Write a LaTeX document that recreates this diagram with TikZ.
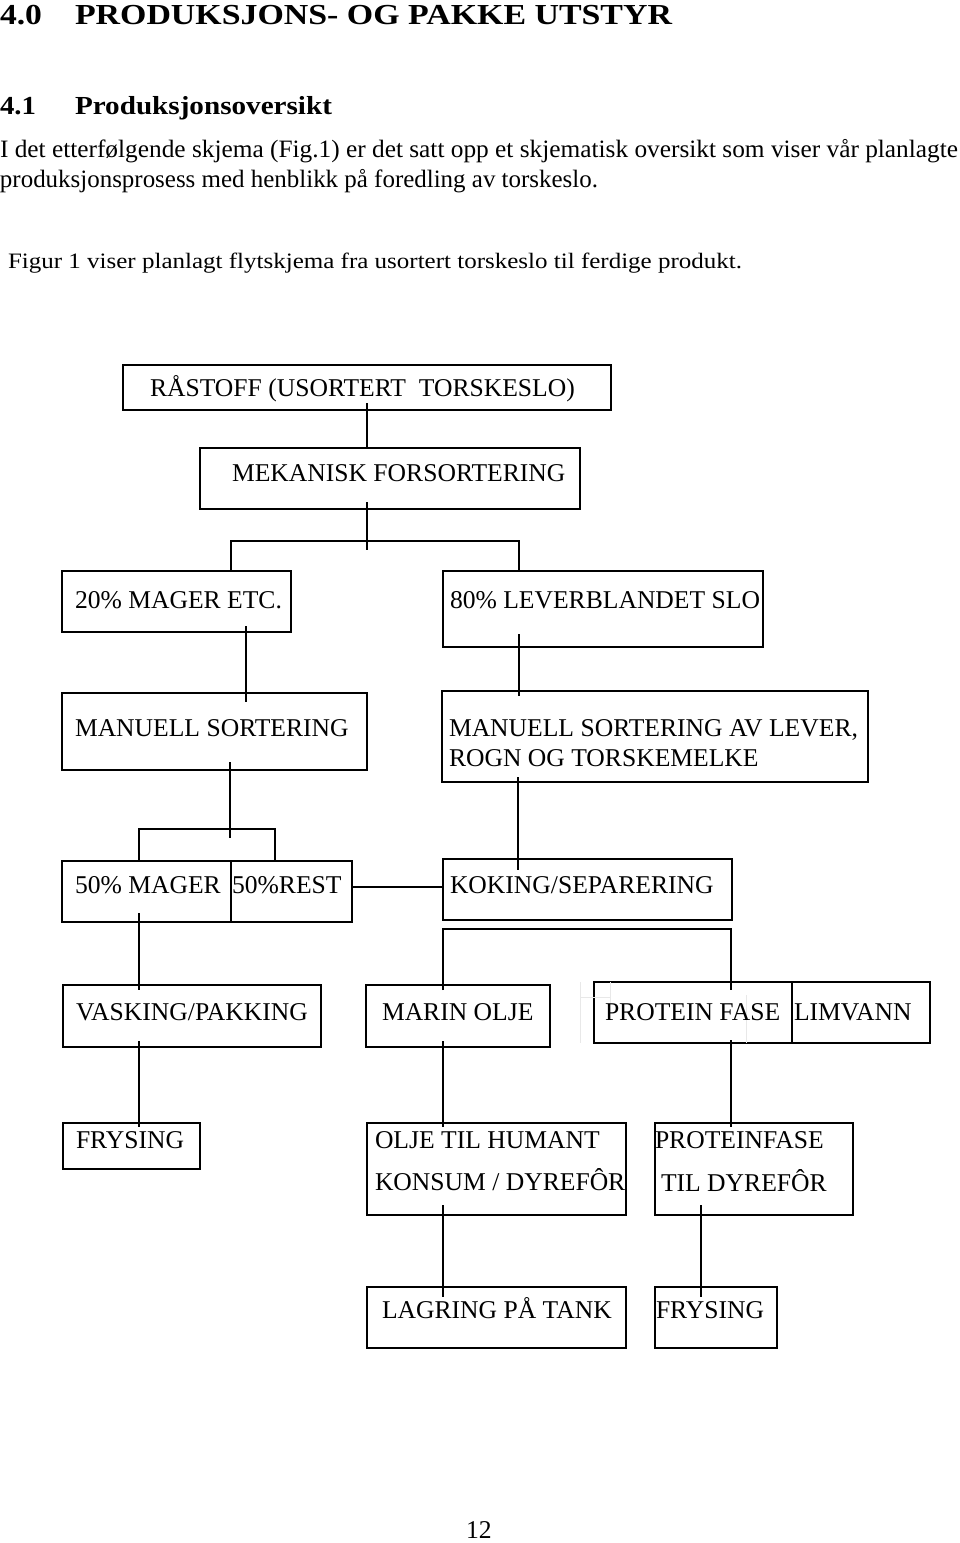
\documentclass[tikz,border=0pt]{standalone}
\usepackage{fontspec}
\setmainfont{Liberation Serif}
\usepackage{graphicx}
\usetikzlibrary{calc}
\begin{document}
\begin{tikzpicture}[x=1pt,y=-1pt,
  box/.style={draw, line width=1.6pt, inner sep=0pt, outer sep=0pt, anchor=north west},
  conn/.style={line width=1.2pt},
  faint/.style={draw=black!9, line width=1pt},
  txt/.style={anchor=base west, inner sep=0pt, outer sep=0pt, font=\fontsize{25.6}{30}\selectfont},
  htxt/.style={anchor=base west, inner sep=0pt, outer sep=0pt}]
\useasboundingbox (0,0) rectangle (960,1543);

% ---------- header text ----------
\node[htxt] (h40n) at (0,24) {\resizebox{42pt}{\height}{\fontsize{29}{34}\selectfont\bfseries 4.0}};
\node[htxt] (h40t) at (75,24) {\resizebox{597pt}{\height}{\fontsize{29}{34}\selectfont\bfseries PRODUKSJONS- OG PAKKE UTSTYR}};
\node[htxt] (h41n) at (0,114) {\resizebox{36pt}{\height}{\fontsize{26}{30}\selectfont\bfseries 4.1}};
\node[htxt] (h41t) at (75,114) {\resizebox{257pt}{\height}{\fontsize{26}{30}\selectfont\bfseries Produksjonsoversikt}};
\node[htxt] (p1) at (0,157) {\resizebox{958pt}{\height}{\fontsize{25}{30}\selectfont I det etterfølgende skjema (Fig.1) er det satt opp et skjematisk oversikt som viser vår planlagte}};
\node[htxt] (p2) at (0,187) {\resizebox{598pt}{\height}{\fontsize{25}{30}\selectfont produksjonsprosess med henblikk på foredling av torskeslo.}};
\node[htxt] (p3) at (8,268) {\resizebox{734pt}{\height}{\fontsize{22}{26}\selectfont Figur 1 viser planlagt flytskjema fra usortert torskeslo til ferdige produkt.}};

% ---------- boxes ----------
\node[box, minimum width=488pt, minimum height=45pt] (raa) at (123,365) {};
\node[box, minimum width=380pt, minimum height=61pt] (mek) at (200,448) {};
\node[box, minimum width=229pt, minimum height=61pt] (p20) at (62,571) {};
\node[box, minimum width=320pt, minimum height=76pt] (p80) at (443,571) {};
\node[box, minimum width=305pt, minimum height=77pt] (man1) at (62,693) {};
\node[box, minimum width=426pt, minimum height=91pt] (man2) at (442,691) {};
\node[box, minimum width=290pt, minimum height=61pt] (p50) at (62,861) {};
\node[box, minimum width=289pt, minimum height=61pt] (kok) at (443,859) {};
\node[box, minimum width=258pt, minimum height=62pt] (vask) at (63,985) {};
\node[box, minimum width=184pt, minimum height=62pt] (marin) at (366,985) {};
\node[box, minimum width=336pt, minimum height=61pt] (prot) at (594,982) {};
\node[box, minimum width=137pt, minimum height=46pt] (fry1) at (63,1123) {};
\node[box, minimum width=259pt, minimum height=92pt] (olje) at (367,1123) {};
\node[box, minimum width=198pt, minimum height=92pt] (pfase) at (655,1123) {};
\node[box, minimum width=259pt, minimum height=61pt] (lag) at (367,1287) {};
\node[box, minimum width=122pt, minimum height=61pt] (fry2) at (655,1287) {};

% dividers inside split boxes
\coordinate (d50) at (231,861);
\coordinate (dprot) at (792,982);
\draw[line width=1.4pt] (d50 |- p50.north) -- (d50 |- p50.south);
\draw[line width=1.4pt] (dprot |- prot.north) -- (dprot |- prot.south);

% faint ghost lines
\coordinate (g1) at (580,982);
\coordinate (g2) at (610,997);
\coordinate (g3) at (746,995);
\draw[faint] (g1) -- (g1 |- prot.south);
\draw[faint] (g1 |- g2) -- (g2);
\draw[faint] (g2 |- g1) -- (g2 |- 0,1003);
\draw[faint] (g3) -- (g3 |- prot.south);

% ---------- texts ----------
\node[txt] (traa) at (150,396) {RÅSTOFF (USORTERT\ \ TORSKESLO)};
\node[txt] (tmek) at (232,481) {MEKANISK FORSORTERING};
\node[txt] (t20) at (75,608) {20\% MAGER ETC.};
\node[txt] (t80) at (450,608) {80\% LEVERBLANDET SLO};
\node[txt] (tman1) at (75,736) {MANUELL SORTERING};
\node[txt] (tman2a) at (449,736) {MANUELL SORTERING AV LEVER,};
\node[txt] (tman2b) at (449,766) {ROGN OG TORSKEMELKE};
\node[txt] (t50a) at (75,893) {50\% MAGER};
\node[txt] (t50b) at (232,893) {50\%REST};
\node[txt] (tkok) at (450,893) {KOKING/SEPARERING};
\node[txt] (tvask) at (76,1020) {VASKING/PAKKING};
\node[txt] (tmarin) at (382,1020) {MARIN OLJE};
\node[txt] (tprot) at (605,1020) {PROTEIN FASE};
\node[txt] (tlim) at (794,1020) {LIMVANN};
\node[txt] (tfry1) at (76,1148) {FRYSING};
\node[txt] (tolje1) at (375,1148) {OLJE TIL HUMANT};
\node[txt] (tolje2) at (375,1190) {KONSUM / DYREFÔR};
\node[txt] (tpf1) at (655,1148) {PROTEINFASE};
\node[txt] (tpf2) at (661,1191) {TIL DYREFÔR};
\node[txt] (tlag) at (382,1318) {LAGRING PÅ TANK};
\node[txt] (tfry2) at (656,1318) {FRYSING};
\node[txt] (pg) at (466,1538) {12};

% ---------- connectors ----------
% raa -> mek
\coordinate (c1) at (367,403);
\draw[conn] (c1) -- (c1 |- mek.north);
% mek -> bracket -> p20, p80
\coordinate (c2) at (367,502);
\coordinate (b1l) at (231,541);
\coordinate (b1r) at (519,541);
\coordinate (b1e) at (367,550);
\draw[conn] (c2) -- (b1e);
\draw[conn] (b1l |- p20.north) -- (b1l) -- (b1r) -- (b1r |- p80.north);
% p20 -> man1
\coordinate (c3) at (246,626);
\draw[conn] (c3) -- ($(c3 |- man1.north)+(0,9)$);
% p80 -> man2
\coordinate (c4) at (519,634);
\draw[conn] (c4) -- ($(c4 |- man2.north)+(0,5)$);
% man1 -> bracket -> p50
\coordinate (c5) at (230,762);
\coordinate (b2l) at (139,829);
\coordinate (b2r) at (275,829);
\coordinate (b2e) at (230,838);
\draw[conn] (c5) -- (b2e);
\draw[conn] (b2l |- p50.north) -- (b2l) -- (b2r) -- (b2r |- p50.north);
% p50 -> kok
\coordinate (c6) at (352,887);
\draw[conn] (c6) -- (c6 -| kok.west);
% man2 -> kok
\coordinate (c7) at (518,777);
\draw[conn] (c7) -- ($(c7 |- kok.north)+(0,11)$);
% p50 -> vask
\coordinate (c8) at (139,913);
\draw[conn] (c8) -- ($(c8 |- vask.north)+(0,5)$);
% kok bracket -> marin, prot
\coordinate (b3l) at (443,929);
\coordinate (b3r) at (731,929);
\draw[conn] ($(b3l |- marin.north)+(0,5)$) -- (b3l) -- (b3r) -- ($(b3r |- prot.north)+(0,8)$);
% vask -> fry1
\coordinate (c9) at (139,1041);
\draw[conn] (c9) -- ($(c9 |- fry1.north)+(0,4)$);
% marin -> olje
\coordinate (c10) at (443,1041);
\draw[conn] (c10) -- ($(c10 |- olje.north)+(0,4)$);
% prot -> pfase
\coordinate (c11) at (731,1040);
\draw[conn] (c11) -- ($(c11 |- pfase.north)+(0,4)$);
% olje -> lag
\coordinate (c12) at (443,1205);
\draw[conn] (c12) -- ($(c12 |- lag.north)+(0,10)$);
% pfase -> fry2
\coordinate (c13) at (701,1205);
\draw[conn] (c13) -- ($(c13 |- fry2.north)+(0,10)$);
\end{tikzpicture}
\end{document}
